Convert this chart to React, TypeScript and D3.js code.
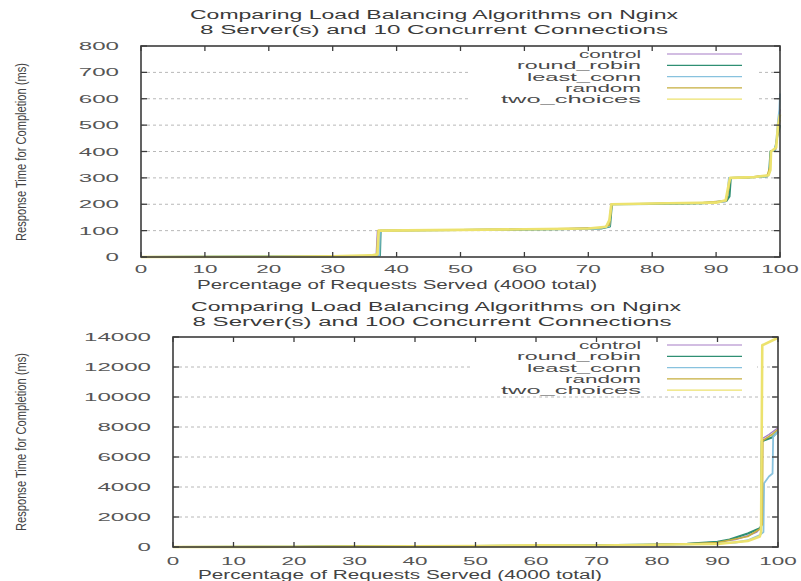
import React from 'react';
import * as d3 from 'd3';

type Pt = [number, number];

const seriesNames = ['control', 'round_robin', 'least_conn', 'random', 'two_choices'];
const seriesColors = ['#a67cc6', '#2f8f73', '#88c2de', '#c6ae3e', '#ece26e'];
const seriesWidths = [1.4, 2.0, 1.8, 1.6, 2.6];
const legendWidths = [62, 124, 114, 76, 140];

const xTicks = [0, 10, 20, 30, 40, 50, 60, 70, 80, 90, 100];
const topYTicks = [0, 100, 200, 300, 400, 500, 600, 700, 800];
const bottomYTicks = [0, 2000, 4000, 6000, 8000, 10000, 12000, 14000];

// 10 concurrent connections
const topControl: Pt[] = [[0, 0], [10, 1], [20, 1], [30, 2], [35, 3], [36.8, 5], [37.0, 100], [45, 102], [55, 104], [65, 106], [72, 110], [73.2, 118], [73.6, 200], [80, 202], [88, 205], [91.4, 210], [91.8, 225], [92.0, 300], [95, 302], [98, 308], [98.4, 330], [98.6, 400], [99.3, 408], [99.6, 470], [100, 560]];
const topRoundRobin: Pt[] = [[0, 0], [10, 1], [20, 2], [30, 2], [35, 4], [37.4, 6], [37.5, 100], [45, 101], [55, 103], [65, 105], [72, 108], [73.4, 116], [73.7, 200], [80, 201], [88, 204], [91.6, 212], [92.1, 230], [92.3, 300], [95, 301], [98, 306], [98.3, 320], [98.5, 400], [99.2, 405], [99.6, 460], [99.85, 480], [100, 500]];
const topLeastConn: Pt[] = [[0, 0], [10, 1], [20, 1], [30, 3], [35, 4], [37.3, 5], [37.4, 100], [45, 102], [55, 104], [65, 106], [72, 109], [73.3, 117], [73.6, 200], [80, 202], [88, 205], [91.5, 211], [91.8, 240], [92.0, 300], [95, 302], [98, 307], [98.4, 325], [98.6, 400], [99.3, 407], [99.7, 520], [99.9, 560], [100, 620]];
const topRandom: Pt[] = [[0, 0], [10, 1], [20, 1], [30, 2], [35, 3], [36.9, 5], [37.1, 100], [45, 102], [55, 104], [65, 107], [72, 111], [73.3, 120], [73.7, 200], [80, 203], [88, 206], [91.6, 213], [92.0, 260], [92.2, 300], [95, 302], [98, 309], [98.4, 340], [98.6, 400], [99.3, 410], [99.7, 480], [100, 520]];
const topTwoChoices: Pt[] = [[0, 0], [20, 1], [30, 3], [36, 6], [37.0, 10], [37.2, 100], [50, 103], [60, 105], [70, 108], [72.8, 115], [73.3, 140], [73.6, 200], [80, 203], [90, 206], [91.5, 215], [92.0, 280], [92.2, 300], [96, 303], [98.2, 310], [98.5, 330], [98.6, 400], [99.4, 415], [99.7, 500], [100, 540]];

// 100 concurrent connections
const botControl: Pt[] = [[0, 0], [20, 20], [30, 40], [40, 50], [50, 60], [60, 80], [70, 100], [80, 160], [85, 200], [90, 330], [93, 500], [95, 750], [96.5, 1000], [97.2, 1300], [97.3, 7200], [98.5, 7500], [100, 7950]];
const botRoundRobin: Pt[] = [[0, 0], [20, 15], [30, 60], [40, 50], [50, 70], [60, 90], [70, 110], [80, 170], [85, 220], [90, 350], [92, 500], [95, 900], [97, 1250], [97.2, 1400], [97.3, 7050], [99, 7300], [100, 7700]];
const botLeastConn: Pt[] = [[0, 0], [20, 10], [30, 30], [40, 40], [50, 55], [60, 70], [70, 90], [80, 140], [85, 180], [90, 250], [93, 300], [95, 450], [97, 800], [97.6, 1000], [97.7, 4250], [98.5, 4700], [99.1, 4900], [99.2, 7350], [100, 7700]];
const botRandom: Pt[] = [[0, 0], [20, 20], [30, 40], [40, 50], [50, 65], [60, 85], [70, 105], [80, 160], [85, 210], [90, 300], [95, 700], [97, 1200], [97.4, 1500], [97.5, 7100], [99, 7500], [100, 7850]];
const botTwoChoices: Pt[] = [[0, 0], [20, 15], [30, 35], [40, 45], [50, 60], [60, 120], [70, 100], [80, 150], [85, 180], [90, 200], [95, 400], [97, 700], [97.2, 1000], [97.4, 13450], [100, 13950]];

const topSeries = [topControl, topRoundRobin, topLeastConn, topRandom, topTwoChoices];
const botSeries = [botControl, botRoundRobin, botLeastConn, botRandom, botTwoChoices];

const FONT = '"Liberation Sans", Arial, sans-serif';

function ST(props: { x: number; y: number; w: number; anchor?: string; size?: number; fill?: string; children: string; transform?: string }) {
  const { x, y, w, anchor = 'middle', size = 11.5, fill = '#3a3a3a', children, transform } = props;
  return (
    <text x={x} y={y} textLength={w} lengthAdjust="spacingAndGlyphs" textAnchor={anchor} fontSize={size} fontFamily={FONT} fill={fill} transform={transform}>
      {children}
    </text>
  );
}

type PanelCfg = {
  left: number; right: number; top: number; bottom: number; yMax: number; yTicks: number[];
  title1: string; title2: string; t1: [number, number, number]; t2: [number, number, number];
  xTitleCx: number; xTitleW: number; xTitleY: number; xLabY: number;
  yTitleCy: number; yLabRight: number;
  legendTop: number; legendStep: number;
  series: Pt[][];
};

function Panel({ c }: { c: PanelCfg }) {
  const x = d3.scaleLinear().domain([0, 100]).range([c.left, c.right]);
  const y = d3.scaleLinear().domain([0, c.yMax]).range([c.bottom, c.top]);
  const line = d3.line<Pt>().x(d => x(d[0])).y(d => y(d[1])).curve(d3.curveLinear);
  const legendX1 = 667, legendX2 = 742, legendTextRight = 641;
  const boxTop = c.legendTop - 8;
  const boxBottom = c.legendTop + c.legendStep * 4 + 5;
  return (
    <g>
      <ST x={c.t1[0]} y={c.t1[1]} w={c.t1[2]} size={12} fill="#3a3a3a">{c.title1}</ST>
      <ST x={c.t2[0]} y={c.t2[1]} w={c.t2[2]} size={12} fill="#3a3a3a">{c.title2}</ST>
      {c.yTicks.filter(t => t > 0 && t < c.yMax).map(t => (
        <line key={'g' + t} x1={c.left} x2={c.right} y1={y(t)} y2={y(t)} stroke="#b8b8b8" strokeWidth={1} strokeDasharray="3,3" />
      ))}
      <g>
        {c.series.map((s, i) => (
          <path key={'s' + i} d={line(s) || ''} fill="none" stroke={seriesColors[i]} strokeWidth={seriesWidths[i]} strokeLinejoin="round" />
        ))}
      </g>
      <rect x={470} y={boxTop} width={287} height={boxBottom - boxTop} fill="#fff" />
      {seriesNames.map((n, i) => (
        <g key={'l' + n}>
          <ST x={legendTextRight} y={c.legendTop + i * c.legendStep + 4} w={legendWidths[i]} anchor="end" size={11.5} fill="#4a4a4a">{n}</ST>
          <line x1={legendX1} x2={legendX2} y1={c.legendTop + i * c.legendStep} y2={c.legendTop + i * c.legendStep} stroke={seriesColors[i]} strokeWidth={1.2} />
        </g>
      ))}
      <rect x={c.left} y={c.top} width={c.right - c.left} height={c.bottom - c.top} fill="none" stroke="#3c3c3c" strokeWidth={1.6} />
      {c.yTicks.map(t => (
        <g key={'yt' + t}>
          <line x1={c.left} x2={c.left + 6} y1={y(t)} y2={y(t)} stroke="#3c3c3c" strokeWidth={1.3} />
          <line x1={c.right} x2={c.right - 6} y1={y(t)} y2={y(t)} stroke="#3c3c3c" strokeWidth={1.3} />
          <ST x={c.yLabRight} y={y(t) + 4} w={String(t).length * 13.4} anchor="end" fill="#555">{String(t)}</ST>
        </g>
      ))}
      {xTicks.map(t => (
        <g key={'xt' + t}>
          <line x1={x(t)} x2={x(t)} y1={c.bottom} y2={c.bottom - 5} stroke="#3c3c3c" strokeWidth={1.3} />
          <line x1={x(t)} x2={x(t)} y1={c.top} y2={c.top + 5} stroke="#3c3c3c" strokeWidth={1.3} />
          <ST x={x(t)} y={c.xLabY} w={String(t).length * 12.5} fill="#555">{String(t)}</ST>
        </g>
      ))}
      <ST x={c.xTitleCx} y={c.xTitleY} w={c.xTitleW} size={12} fill="#444">Percentage of Requests Served (4000 total)</ST>
      <ST x={0} y={0} w={178} size={14.5} fill="#444" transform={`translate(26,${c.yTitleCy}) rotate(-90)`}>Response Time for Completion (ms)</ST>
    </g>
  );
}

const topCfg: PanelCfg = {
  left: 141, right: 780, top: 46, bottom: 257, yMax: 800, yTicks: topYTicks,
  title1: 'Comparing Load Balancing Algorithms on Nginx', title2: '8 Server(s) and 10 Concurrent Connections',
  t1: [434, 19, 488], t2: [434, 34, 468],
  xTitleCx: 397, xTitleW: 400, xTitleY: 289, xLabY: 273,
  yTitleCy: 152, yLabRight: 119,
  legendTop: 54, legendStep: 11.3,
  series: topSeries,
};

const botCfg: PanelCfg = {
  left: 173, right: 778, top: 337, bottom: 547, yMax: 14000, yTicks: bottomYTicks,
  title1: 'Comparing Load Balancing Algorithms on Nginx', title2: '8 Server(s) and 100 Concurrent Connections',
  t1: [436, 311, 490], t2: [432, 326, 479],
  xTitleCx: 400, xTitleW: 404, xTitleY: 579, xLabY: 565,
  yTitleCy: 442, yLabRight: 151,
  legendTop: 345, legendStep: 11.3,
  series: botSeries,
};

export default function App() {
  return (
    <svg width={801} height={581} style={{ position: 'absolute', left: 0, top: 0, background: '#fff' }}>
      <rect x={0} y={0} width={801} height={581} fill="#fff" />
      <Panel c={topCfg} />
      <Panel c={botCfg} />
    </svg>
  );
}
